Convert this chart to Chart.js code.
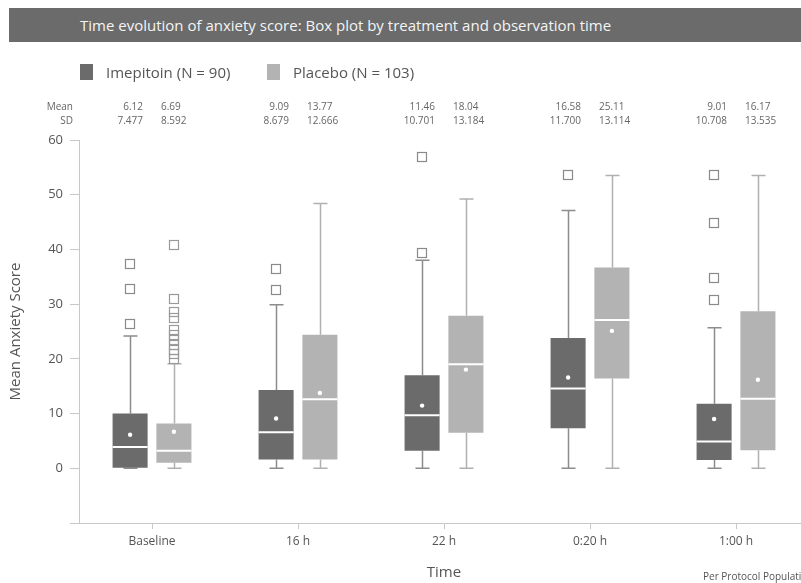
<!DOCTYPE html>
<html>
<head>
<meta charset="utf-8">
<script src="https://cdn.jsdelivr.net/npm/chart.js@4/dist/chart.umd.min.js"></script>
<style>
  html, body { margin: 0; padding: 0; overflow: hidden; background: #ffffff; }
  body { width: 801px; height: 583px; position: relative; font-family: "Open Sans", sans-serif; }
  #wrap { position: absolute; left: 0; top: 0; width: 812px; height: 583px; }
  #titleBar {
    position: absolute; left: 9px; top: 8px; width: 800px; height: 34px;
    background: #6b6b6b; color: #f4f4f4; font-size: 15px; line-height: 34px;
    padding-left: 71px; box-sizing: border-box; white-space: nowrap;
  }
  .legendItem { position: absolute; top: 62px; height: 20px; font-size: 15px; color: #555; line-height: 20px; white-space: nowrap; }
  .legendItem span.sw { position: absolute; left: 0; top: 2px; width: 13px; height: 16px; }
  .legendItem span.tx { position: absolute; left: 26px; top: 0; }
</style>
</head>
<body>
<div id="wrap"><canvas id="chart" width="812" height="583"></canvas></div>
<div id="titleBar">Time evolution of anxiety score: Box plot by treatment and observation time</div>
<div class="legendItem" style="left:80px"><span class="sw" style="background:#6b6b6b"></span><span class="tx">Imepitoin (N = 90)</span></div>
<div class="legendItem" style="left:267px"><span class="sw" style="background:#b3b3b3"></span><span class="tx">Placebo (N = 103)</span></div>
<script>
// Observation times
const categories = ['Baseline', '16 h', '22 h', '0:20 h', '1:00 h'];

// Imepitoin box plot statistics
const imepQ1 = [0, 1.6, 3.2, 7.3, 1.5];
const imepMedian = [3.9, 6.6, 9.7, 14.6, 4.9];
const imepQ3 = [10.0, 14.3, 17.0, 23.8, 11.8];
const imepWhiskerLow = [0, 0, 0, 0, 0];
const imepWhiskerHigh = [24.2, 29.9, 38.0, 47.1, 25.7];
const imepMean = [6.12, 9.09, 11.46, 16.58, 9.01];
const imepSD = ['7.477', '8.679', '10.701', '11.700', '10.708'];
const imepOutliers = [[37.4, 32.7, 26.3], [36.5, 32.6], [56.9, 39.3], [53.6], [53.6, 44.8, 34.7, 30.7]];

// Placebo box plot statistics
const placeboQ1 = [1.0, 1.6, 6.5, 16.4, 3.3];
const placeboMedian = [3.2, 12.6, 19.0, 27.1, 12.7];
const placeboQ3 = [8.2, 24.4, 27.9, 36.7, 28.7];
const placeboWhiskerLow = [0, 0, 0, 0, 0];
const placeboWhiskerHigh = [19.1, 48.4, 49.2, 53.5, 53.5];
const placeboMean = [6.69, 13.77, 18.04, 25.11, 16.17];
const placeboSD = ['8.592', '12.666', '13.184', '13.114', '13.535'];
const placeboOutliers = [[40.8, 30.9, 28.5, 27.4, 25.3, 24.4, 23.5, 22.6, 21.7, 20.9, 20.0], [], [], [], []];

// Y axis tick values
const yTicks = [-10, 0, 10, 20, 30, 40, 50, 60];

const FONT = '"Open Sans", sans-serif';
const groups = [
  { name: 'Imepitoin', q1: imepQ1, med: imepMedian, q3: imepQ3, lo: imepWhiskerLow, hi: imepWhiskerHigh,
    mean: imepMean, sd: imepSD, out: imepOutliers, fill: '#6b6b6b', line: '#8c8c8c', outline: '#8a8a8a' },
  { name: 'Placebo', q1: placeboQ1, med: placeboMedian, q3: placeboQ3, lo: placeboWhiskerLow, hi: placeboWhiskerHigh,
    mean: placeboMean, sd: placeboSD, out: placeboOutliers, fill: '#b3b3b3', line: '#b0b0b0', outline: '#999999' }
];

// Whiskers and caps go under the boxes; medians, means, outliers and the stats table on top
const whiskerPlugin = {
  id: 'whiskers',
  beforeDatasetsDraw(chart) {
    const ctx = chart.ctx, y = chart.scales.y;
    groups.forEach((g, di) => {
      const meta = chart.getDatasetMeta(di);
      ctx.save();
      ctx.strokeStyle = g.line;
      ctx.lineWidth = 1.5;
      meta.data.forEach((bar, i) => {
        const x = Math.round(bar.x) + 0.5;
        const yHi = y.getPixelForValue(g.hi[i]), yQ3 = y.getPixelForValue(g.q3[i]);
        const yLo = y.getPixelForValue(g.lo[i]), yQ1 = y.getPixelForValue(g.q1[i]);
        ctx.beginPath();
        ctx.moveTo(x, yQ3); ctx.lineTo(x, yHi);
        ctx.moveTo(x - 7, yHi); ctx.lineTo(x + 7, yHi);
        ctx.moveTo(x, yQ1); ctx.lineTo(x, yLo);
        ctx.moveTo(x - 7, yLo); ctx.lineTo(x + 7, yLo);
        ctx.stroke();
      });
      ctx.restore();
    });
  },
  afterDatasetsDraw(chart) {
    const ctx = chart.ctx, y = chart.scales.y, xs = chart.scales.x;
    groups.forEach((g, di) => {
      const meta = chart.getDatasetMeta(di);
      meta.data.forEach((bar, i) => {
        const half = bar.width / 2;
        // median
        const ym = y.getPixelForValue(g.med[i]);
        ctx.save();
        ctx.strokeStyle = '#ffffff';
        ctx.lineWidth = 2;
        ctx.beginPath();
        ctx.moveTo(bar.x - half, ym); ctx.lineTo(bar.x + half, ym);
        ctx.stroke();
        // mean
        ctx.fillStyle = '#ffffff';
        ctx.beginPath();
        ctx.arc(bar.x, y.getPixelForValue(g.mean[i]), 2.2, 0, Math.PI * 2);
        ctx.fill();
        // outliers
        ctx.strokeStyle = g.outline;
        ctx.lineWidth = 1.2;
        g.out[i].forEach(v => {
          const yy = y.getPixelForValue(v);
          ctx.strokeRect(Math.round(bar.x) - 4.5, Math.round(yy) - 4.5, 9, 9);
        });
        ctx.restore();
      });
    });
    // Mean / SD table above the plot
    ctx.save();
    ctx.font = '10px ' + FONT;
    ctx.fillStyle = '#666666';
    ctx.textBaseline = 'middle';
    ctx.textAlign = 'right';
    ctx.fillText('Mean', 73, 107);
    ctx.fillText('SD', 73, 121);
    categories.forEach((c, i) => {
      const cx = xs.getPixelForValue(i);
      ctx.textAlign = 'right';
      ctx.fillText(imepMean[i].toFixed(2), cx - 9, 107);
      ctx.fillText(imepSD[i], cx - 9, 121);
      ctx.textAlign = 'left';
      ctx.fillText(placeboMean[i].toFixed(2), cx + 9, 107);
      ctx.fillText(placeboSD[i], cx + 9, 121);
    });
    ctx.textAlign = 'left';
    ctx.fillStyle = '#555555';
    ctx.fillText('Per Protocol Population', 703, 577);
    ctx.restore();
  }
};

new Chart(document.getElementById('chart'), {
  type: 'bar',
  data: {
    labels: categories,
    datasets: groups.map(g => ({
      label: g.name,
      data: g.q1.map((v, i) => [v, g.q3[i]]),
      backgroundColor: g.fill,
      borderWidth: 0,
      borderSkipped: false,
      categoryPercentage: 0.6,
      barPercentage: 0.8
    }))
  },
  options: {
    responsive: false,
    animation: false,
    devicePixelRatio: 1,
    layout: { padding: { top: 140, left: 0, right: 3, bottom: 0 } },
    plugins: { legend: { display: false }, tooltip: { enabled: false }, title: { display: false } },
    scales: {
      x: {
        grid: { drawOnChartArea: false, offset: false, tickLength: 6, color: '#c8c8c8' },
        border: { color: '#c8c8c8' },
        ticks: { font: { family: FONT, size: 12 }, color: '#555555', padding: 5 },
        title: { display: true, text: 'Time', font: { family: FONT, size: 15 }, color: '#555555', padding: { top: 0, bottom: 1 } },
        afterFit(scale) { scale.height = 60; }
      },
      y: {
        min: -10, max: 60,
        afterBuildTicks(scale) { scale.ticks = yTicks.map(v => ({ value: v })); },
        grid: { drawOnChartArea: false, tickLength: 9, color: '#c8c8c8' },
        border: { color: '#c8c8c8' },
        ticks: { font: { family: FONT, size: 13 }, color: '#555555', padding: 7,
                 callback: v => (v < 0 ? '' : v) },
        title: { display: true, text: 'Mean Anxiety Score', font: { family: FONT, size: 15 }, color: '#555555', padding: { top: 7, bottom: 0 } },
        afterFit(scale) { scale.width = 79; }
      }
    }
  },
  plugins: [whiskerPlugin]
});
</script>
</body>
</html>
